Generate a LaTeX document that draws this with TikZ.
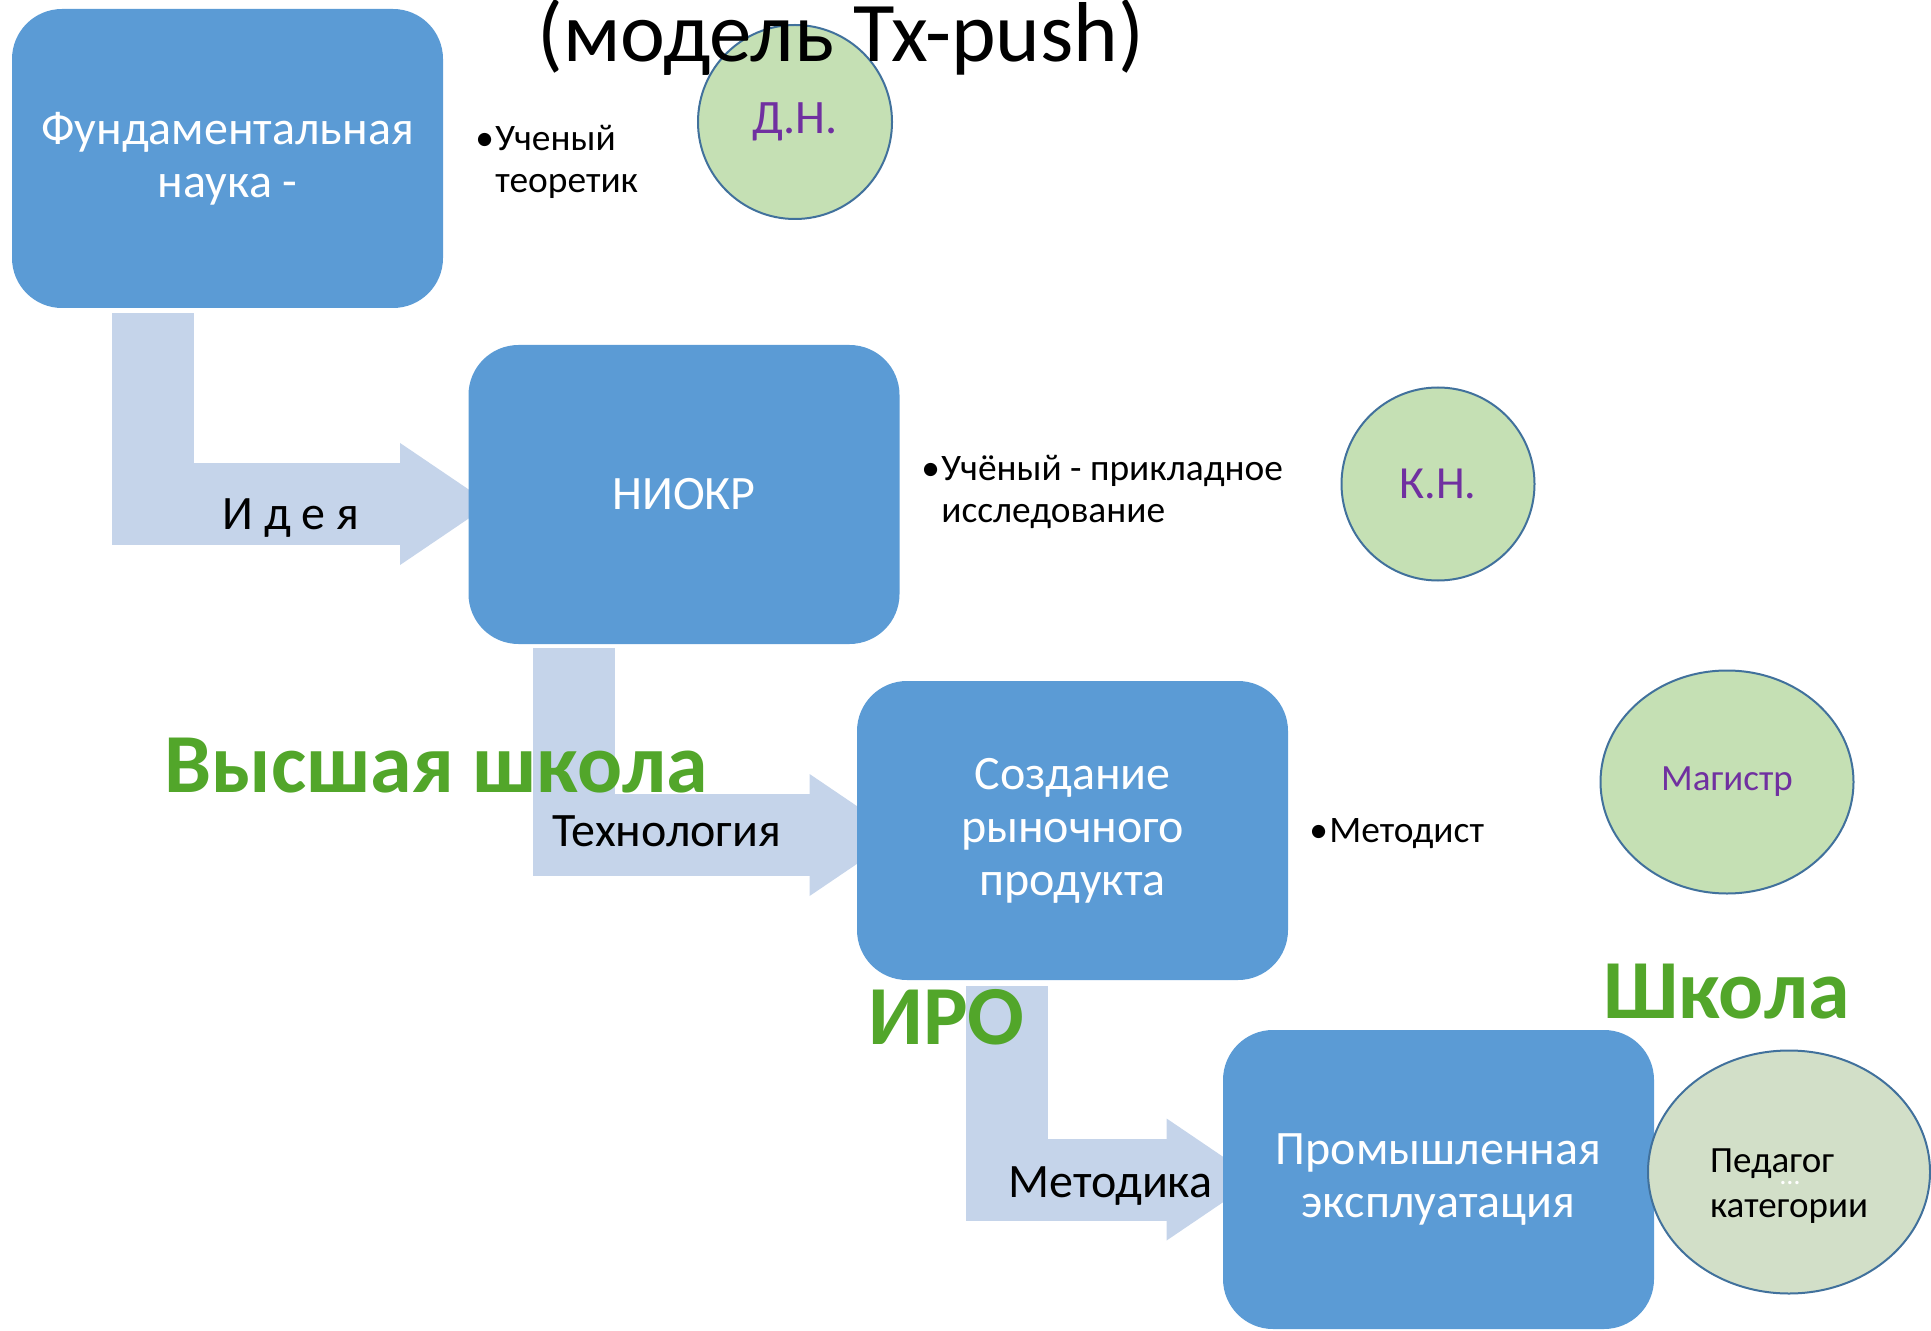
\documentclass[tikz,border=0pt]{standalone}
\usepackage{fontspec}
\setmainfont{Carlito}
\usetikzlibrary{arrows.meta,shapes.geometric,backgrounds}
\definecolor{stageblue}{HTML}{5B9BD5}
\definecolor{flowblue}{HTML}{C5D4EA}
\definecolor{ringgreen}{HTML}{C5E0B4}
\definecolor{ringgrey}{HTML}{D2DFC8}
\definecolor{ringline}{HTML}{41719C}
\definecolor{degreeviolet}{HTML}{7030A0}
\definecolor{levelgreen}{HTML}{52A62A}
\tikzset{
  stage/.style={rectangle,rounded corners=25pt,fill=stageblue,text=white,
    minimum width=215.5pt,minimum height=149.5pt,inner sep=0pt,align=center,
    font=\fontsize{24}{26.5}\selectfont},
  degree/.style={ellipse,fill=ringgreen,draw=ringline,line width=1pt,
    inner sep=0pt,text=degreeviolet},
  flow/.style={draw=flowblue,line width=41pt,line join=miter,
    -{Triangle[length=45pt,width=61pt,line width=0pt]}},
  flowtext/.style={anchor=base west,inner sep=0pt,font=\fontsize{24}{27}\selectfont},
  role/.style={anchor=west,inner sep=0pt,align=left,font=\fontsize{18.7}{20.8}\selectfont},
  level/.style={anchor=base west,inner sep=0pt,text=levelgreen,
    font=\fontsize{42}{46}\selectfont\bfseries}
}
\newcommand\bul{\makebox[10pt][l]{\textbullet}}
\begin{document}
\begin{tikzpicture}[x=0.5pt,y=-0.5pt]
\useasboundingbox (0,0) rectangle (1931,1331);
% stages
\node[stage] (fund) at (227.5,158.5) {Фундаментальная\\наука -};
\node[stage] (niokr) at (684,494.5) {НИОКР};
\node[stage] (market) at (1072.5,830.5) {Создание\\рыночного\\продукта};
\node[stage] (industry) at (1438.5,1179.5) {Промышленная\\эксплуатация};
% flows between the stages
\begin{scope}[on background layer]
\draw[flow,shorten >=-11pt] ([xshift=70.5pt,yshift=-2.5pt]fund.south west) |- ([yshift=-4.75pt]niokr.west);
\draw[flow,shorten >=-21.5pt] ([xshift=52.75pt,yshift=-2pt]niokr.south west) |- ([yshift=-2.25pt]market.west);
\draw[flow,shorten >=-17pt] ([xshift=75pt,yshift=-3pt]market.south west) |- (industry.west);
\end{scope}
\node[flowtext] (idea) at (222,530) {И д е я};
\node[flowtext] (tech) at (552,846) {Технология};
\node[flowtext] (method) at (1008,1197) {Методика};
% degrees
\node[degree,minimum width=97pt,minimum height=97pt,font=\fontsize{24}{28}\selectfont] (dn) at (795,122) {Д.Н.};
\node[degree,minimum width=96.5pt,minimum height=96.5pt,font=\fontsize{23}{27}\selectfont] (kn) at (1438,484) {К.Н.};
\node[degree,minimum width=126.5pt,minimum height=111.5pt,font=\fontsize{18.5}{22}\selectfont] (mag) at (1727,782) {Магистр};
\node[degree,fill=ringgrey,text=black,align=left,minimum width=141pt,minimum height=121.5pt,font=\fontsize{18.5}{22.5}\selectfont] (ped) at (1789,1172) {\rule{0pt}{26pt}Педагог\\категории};
\node[text=white,inner sep=0pt,font=\fontsize{14}{14}\selectfont] (peddots) at (1790,1183) {…};
\node[anchor=base,inner sep=0pt,font=\fontsize{42.5}{46}\selectfont] (title) at (841,62) {(модель Tx-push)};
% roles
\node[role] (theorist) at (475,162) {\bul Ученый\\\hspace*{10pt}теоретик};
\node[role] (applied) at (921,492) {\bul Учёный - прикладное\\\hspace*{10pt}исследование};
\node[role,anchor=base west] (methodist) at (1309,842) {\bul Методист};
% levels
\node[level] (highschool) at (164,792) {Высшая школа};
\node[level] (iro) at (868,1044) {ИРО};
\node[level] (school) at (1603,1018) {Школа};
\end{tikzpicture}
\end{document}
